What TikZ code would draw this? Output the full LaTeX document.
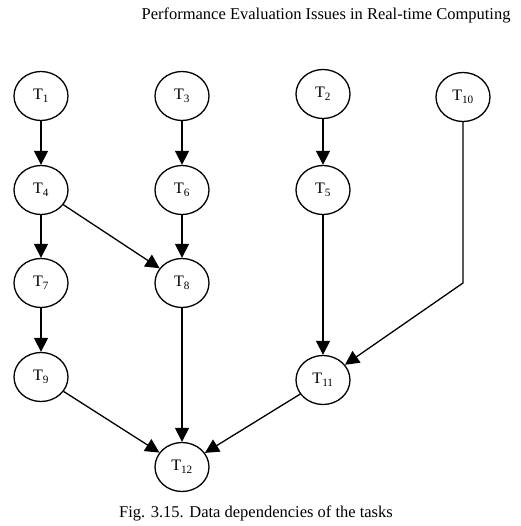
\documentclass[tikz,border=0pt]{standalone}
\usepackage{fontspec}
\setmainfont{Liberation Serif}
\usetikzlibrary{shapes.geometric,arrows.meta}
\tikzset{
  task/.style={draw, ellipse, line width=1.3pt, minimum width=54pt, minimum height=49pt, inner sep=0pt, font=\fontsize{16}{18}\selectfont},
  dep/.style={line width=1.3pt, -{Triangle[length=14pt,width=14pt]}},
}
\newcommand{\tk}[1]{T\textsubscript{#1}}
\begin{document}
\begin{tikzpicture}[x=1pt,y=-1pt]
\useasboundingbox (0,0) rectangle (520,526);
\node[font=\fontsize{16.5}{18}\selectfont, anchor=east] (title) at (514,15) {Performance Evaluation Issues in Real-time Computing};
\node (t1) [task] at (41,96) {\tk{1}};
\node (t3) [task] at (182,96) {\tk{3}};
\node (t2) [task] at (323,94) {\tk{2}};
\node (t10) [task] at (463,97) {\tk{10}};
\node (t4) [task] at (41,190) {\tk{4}};
\node (t6) [task] at (182,190) {\tk{6}};
\node (t5) [task] at (323,190) {\tk{5}};
\node (t7) [task] at (41,283) {\tk{7}};
\node (t8) [task] at (182,283) {\tk{8}};
\node (t9) [task] at (41,377) {\tk{9}};
\node (t11) [task] at (323,380) {\tk{11}};
\node (t12) [task] at (182,467) {\tk{12}};
\coordinate (bend) at (463,283);
\draw[dep] (t1) -- (t4);
\draw[dep] (t3) -- (t6);
\draw[dep] (t2) -- (t5);
\draw[dep] (t4) -- (t7);
\draw[dep] (t4) -- (t8);
\draw[dep] (t6) -- (t8);
\draw[dep] (t7) -- (t9);
\draw[dep] (t5) -- (t11);
\draw[dep] (t10.south) -- (bend) -- (t11);
\draw[dep] (t9) -- (t12);
\draw[dep] (t8) -- (t12);
\draw[dep] (t11) -- (t12);
\node[font=\fontsize{16.5}{18}\selectfont] (cap) at (256,513) {Fig. 3.15. Data dependencies of the tasks};
\end{tikzpicture}
\end{document}
